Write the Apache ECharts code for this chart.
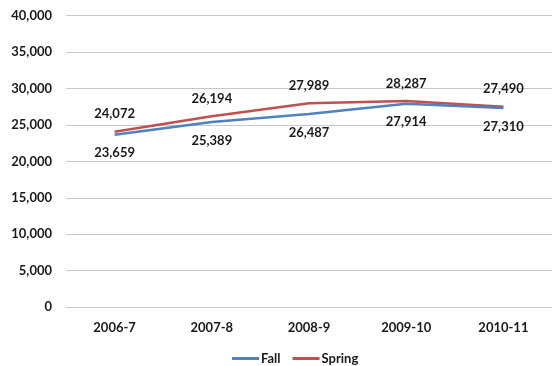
<!DOCTYPE html>
<html>
<head>
<meta charset="utf-8">
<script src="https://cdn.jsdelivr.net/npm/echarts@6/dist/echarts.min.js"></script>
<style>
  html, body { margin: 0; padding: 0; background: #ffffff; }
  #chart { width: 552px; height: 366px; }
</style>
</head>
<body>
<div id="chart"></div>
<script>
// Academic years on the x axis
const years = ['2006-7', '2007-8', '2008-9', '2009-10', '2010-11'];
// Enrollment by term
const fall = [23659, 25389, 26487, 27914, 27310];
const spring = [24072, 26194, 27989, 28287, 27490];

const FONT = 'Lato';
const TEXT = '#1a1a1a';

const chart = echarts.init(document.getElementById('chart'), null, { renderer: 'canvas' });

function valueLabel(position, distance) {
  return {
    show: true,
    position: position,
    distance: distance,
    fontFamily: FONT,
    fontWeight: 'bold',
    fontSize: 13,
    color: TEXT,
    formatter: p => p.value.toLocaleString('en-US')
  };
}

chart.setOption({
  animation: false,
  backgroundColor: '#ffffff',
  grid: { left: 66, right: -5, top: 15.7, bottom: 59, containLabel: false },
  legend: {
    top: 347,
    left: 227,
    itemWidth: 27,
    itemHeight: 3,
    itemGap: 12,
    icon: 'rect',
    textStyle: { fontFamily: FONT, fontWeight: 'bold', fontSize: 13, color: TEXT, padding: [0, 0, 0, -3] },
    data: ['Fall', 'Spring']
  },
  xAxis: {
    type: 'category',
    data: years,
    boundaryGap: true,
    axisLine: { show: true, lineStyle: { color: '#c8c8c8', width: 1 } },
    axisTick: { show: false },
    axisLabel: { margin: 14, fontFamily: FONT, fontWeight: 'bold', fontSize: 13, color: TEXT }
  },
  yAxis: {
    type: 'value',
    min: 0,
    max: 40000,
    interval: 5000,
    axisLine: { show: false },
    axisTick: { show: false },
    splitLine: { lineStyle: { color: '#c8c8c8', width: 1 } },
    axisLabel: {
      margin: 14,
      fontFamily: FONT,
      fontWeight: 'bold',
      fontSize: 13,
      color: TEXT,
      formatter: v => v.toLocaleString('en-US')
    }
  },
  series: [
    {
      name: 'Fall',
      type: 'line',
      data: fall,
      showSymbol: true,
      symbol: 'circle',
      symbolSize: 0.1,
      color: '#4F81BD',
      lineStyle: { color: '#4F81BD', width: 2.5 },
      label: valueLabel('bottom', 12),
      z: 3
    },
    {
      name: 'Spring',
      type: 'line',
      data: spring,
      showSymbol: true,
      symbol: 'circle',
      symbolSize: 0.1,
      color: '#C0504D',
      lineStyle: { color: '#C0504D', width: 2.5 },
      label: valueLabel('top', 11),
      z: 2
    }
  ]
});
</script>
</body>
</html>
